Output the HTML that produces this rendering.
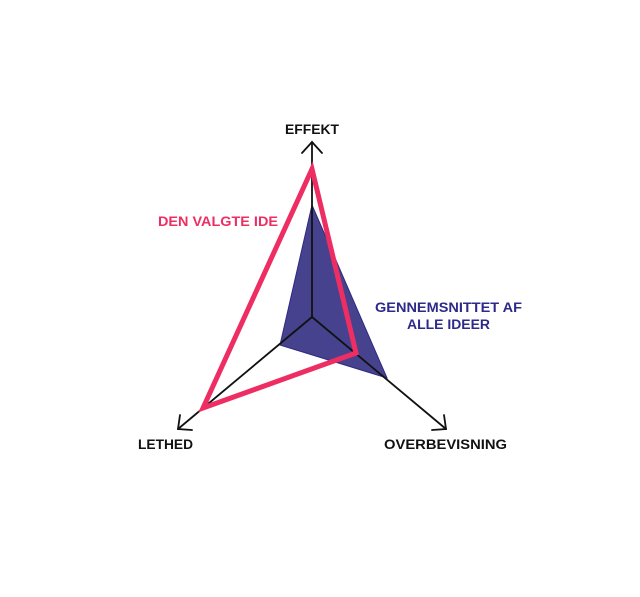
<!DOCTYPE html>
<html><head><meta charset="utf-8"><style>
html,body{margin:0;padding:0;background:#fff;}
svg{display:block;}
text{font-family:"Liberation Sans",Arial,sans-serif;font-weight:bold;font-size:13.5px;}
</style></head><body>
<svg width="640" height="597" viewBox="0 0 640 597" xmlns="http://www.w3.org/2000/svg">
<rect width="640" height="597" fill="#fff"/>
<polygon points="312,205 387,378 280,345" fill="#46428e" stroke="#2e2a80" stroke-width="1"/>
<g stroke="#111" stroke-width="1.8" fill="none" stroke-linecap="round">
<line x1="312" y1="317" x2="312" y2="142"/>
<polyline points="302,153 312,142 322,153"/>
<line x1="312" y1="317" x2="178" y2="429"/>
<polyline points="180,415 178,429 192,430"/>
<line x1="312" y1="317" x2="446" y2="429"/>
<polyline points="432,430 446,429 444,415"/>
</g>
<polygon points="312,169 356,353 203,408" fill="none" stroke="#ee2e63" stroke-width="5" stroke-linejoin="miter"/>
<text x="285" y="134" textLength="54" lengthAdjust="spacingAndGlyphs" fill="#111">EFFEKT</text>
<text x="158" y="226" textLength="120" lengthAdjust="spacingAndGlyphs" fill="#ee2e63">DEN VALGTE IDE</text>
<text x="375" y="312" textLength="147" lengthAdjust="spacingAndGlyphs" fill="#2e2a8a">GENNEMSNITTET AF</text>
<text x="407" y="329" textLength="83" lengthAdjust="spacingAndGlyphs" fill="#2e2a8a">ALLE IDEER</text>
<text x="138" y="449" textLength="55" lengthAdjust="spacingAndGlyphs" fill="#111">LETHED</text>
<text x="384" y="449" textLength="123" lengthAdjust="spacingAndGlyphs" fill="#111">OVERBEVISNING</text>
</svg>
</body></html>
